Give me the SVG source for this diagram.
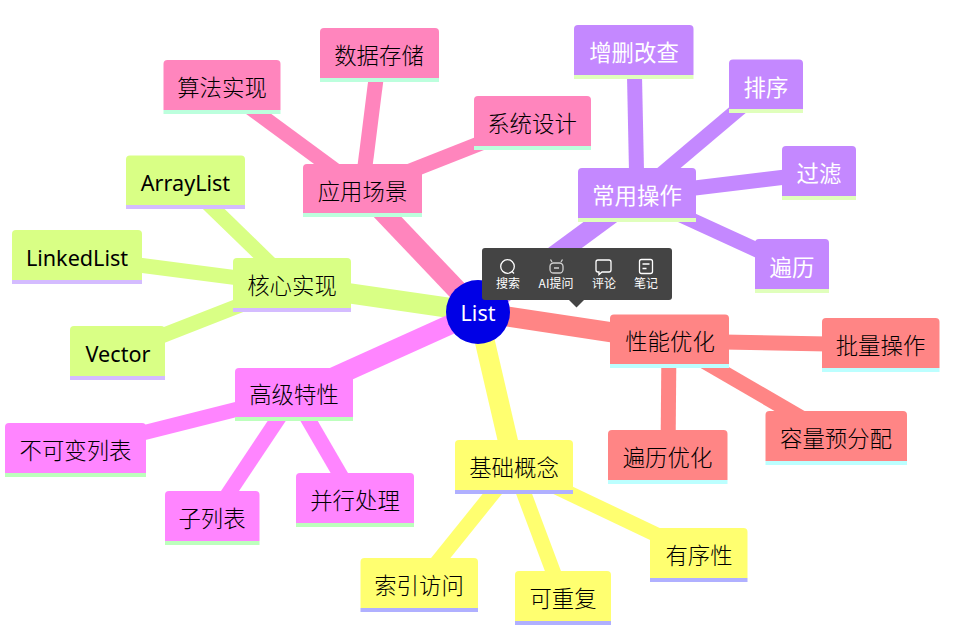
<svg xmlns="http://www.w3.org/2000/svg" width="960" height="643" viewBox="0 0 960 643">
<style>
text{font-family:"Noto Sans CJK SC","Noto Sans",sans-serif;font-size:22.400px;font-weight:300;text-anchor:middle;fill:#000}
g[id^="n-"] text{transform:translateY(.6px)}
.lat{font-size:21.600px;font-family:"Noto Sans","Noto Sans CJK SC",sans-serif;font-weight:400}
.c line{stroke-linecap:butt}
.main{stroke-width:20}.sub{stroke-width:15}
.pink{stroke:#ff85bd}.purple{stroke:#c488ff}.red{stroke:#ff8585}.yellow{stroke:#ffff70}.mag{stroke:#ff85ff}.green{stroke:#d9ff85}
.b-pink{fill:#ff85bd}.s-pink{fill:#bcffdd}
.b-purple{fill:#c488ff}.s-purple{fill:#e0ffbc}
.b-red{fill:#ff8585}.s-red{fill:#bcffff}
.b-yellow{fill:#ffff70}.s-yellow{fill:#b0b0ff}
.b-mag{fill:#ff85ff}.s-mag{fill:#bcffbc}
.b-green{fill:#d9ff85}.s-green{fill:#d4bcff}
.w{fill:#fff;font-weight:400}
#toolbar text{font-size:12px;fill:#fff;font-weight:400}
#toolbar .i{fill:none;stroke:#fff;stroke-width:1.300}
</style>
<g id="connectors" class="c">
<line class="sub pink" x1="222" y1="87" x2="362" y2="190"/>
<line class="sub pink" x1="379" y1="55" x2="362" y2="190"/>
<line class="sub pink" x1="532" y1="123" x2="362" y2="190"/>
<line class="main pink" x1="478" y1="312" x2="362" y2="190"/>
<line class="sub purple" x1="634" y1="52" x2="637" y2="195"/>
<line class="sub purple" x1="766" y1="86" x2="637" y2="195"/>
<line class="sub purple" x1="819" y1="173" x2="637" y2="195"/>
<line class="sub purple" x1="792" y1="266" x2="637" y2="195"/>
<line class="main purple" x1="478" y1="312" x2="637" y2="195"/>
<line class="sub green" x1="186" y1="182" x2="292" y2="285"/>
<line class="sub green" x1="77" y1="257" x2="292" y2="285"/>
<line class="sub green" x1="118" y1="353" x2="292" y2="285"/>
<line class="main green" x1="478" y1="312" x2="292" y2="285"/>
<line class="sub mag" x1="75" y1="450" x2="294" y2="395"/>
<line class="sub mag" x1="212" y1="518" x2="294" y2="395"/>
<line class="sub mag" x1="355" y1="500" x2="294" y2="395"/>
<line class="main mag" x1="478" y1="312" x2="294" y2="395"/>
<line class="sub yellow" x1="419" y1="585" x2="514" y2="467"/>
<line class="sub yellow" x1="563" y1="598" x2="514" y2="467"/>
<line class="sub yellow" x1="699" y1="555" x2="514" y2="467"/>
<line class="main yellow" x1="478" y1="312" x2="514" y2="467"/>
<line class="sub red" x1="881" y1="345" x2="669" y2="341"/>
<line class="sub red" x1="836" y1="438" x2="669" y2="341"/>
<line class="sub red" x1="668" y1="457" x2="669" y2="341"/>
<line class="main red" x1="478" y1="312" x2="669" y2="341"/>
</g>
<g id="n-yingyong"><path class="b-pink" d="M303 213v-45a4 4 0 0 1 4-4h111a4 4 0 0 1 4 4v45z"/><rect class="s-pink" x="303" y="213" width="119" height="4"/><text x="362.500" y="199">应用场景</text></g>
<g id="n-suanfa"><path class="b-pink" d="M163.500 110v-46a4 4 0 0 1 4-4h109a4 4 0 0 1 4 4v46z"/><rect class="s-pink" x="163.500" y="110" width="117" height="4"/><text x="222" y="95">算法实现</text></g>
<g id="n-shuju"><path class="b-pink" d="M320 78v-46a4 4 0 0 1 4-4h111a4 4 0 0 1 4 4v46z"/><rect class="s-pink" x="320" y="78" width="119" height="4"/><text x="379" y="63">数据存储</text></g>
<g id="n-xitong"><path class="b-pink" d="M474 146v-46a4 4 0 0 1 4-4h109a4 4 0 0 1 4 4v46z"/><rect class="s-pink" x="474" y="146" width="117" height="4"/><text x="532" y="131">系统设计</text></g>
<g id="n-changyong"><path class="b-purple" d="M578 218v-46a4 4 0 0 1 4-4h110a4 4 0 0 1 4 4v46z"/><rect class="s-purple" x="578" y="218" width="118" height="4"/><text class="w" x="637" y="203">常用操作</text></g>
<g id="n-zengshan"><path class="b-purple" d="M574 75v-46a4 4 0 0 1 4-4h111.500a4 4 0 0 1 4 4v46z"/><rect class="s-purple" x="574" y="75" width="119.500" height="4"/><text class="w" x="634" y="60">增删改查</text></g>
<g id="n-paixu"><path class="b-purple" d="M729 109v-45.500a4 4 0 0 1 4-4h66a4 4 0 0 1 4 4v45.500z"/><rect class="s-purple" x="729" y="109" width="74" height="4"/><text class="w" x="766" y="95">排序</text></g>
<g id="n-guolv"><path class="b-purple" d="M782 196v-46a4 4 0 0 1 4-4h66a4 4 0 0 1 4 4v46z"/><rect class="s-purple" x="782" y="196" width="74" height="4"/><text class="w" x="819" y="181">过滤</text></g>
<g id="n-bianli"><path class="b-purple" d="M755 289v-46a4 4 0 0 1 4-4h66a4 4 0 0 1 4 4v46z"/><rect class="s-purple" x="755" y="289" width="74" height="4"/><text class="w" x="792" y="275">遍历</text></g>
<g id="n-hexin"><path class="b-green" d="M233 308v-46a4 4 0 0 1 4-4h110a4 4 0 0 1 4 4v46z"/><rect class="s-green" x="233" y="308" width="118" height="4"/><text x="292" y="293">核心实现</text></g>
<g id="n-arraylist"><path class="b-green" d="M126 205v-45.500a4 4 0 0 1 4-4h111a4 4 0 0 1 4 4v45.500z"/><rect class="s-green" x="126" y="205" width="119" height="4"/><text class="lat" x="185.500" y="190">ArrayList</text></g>
<g id="n-linkedlist"><path class="b-green" d="M12 280v-46a4 4 0 0 1 4-4h122a4 4 0 0 1 4 4v46z"/><rect class="s-green" x="12" y="280" width="130" height="4"/><text class="lat" x="77" y="265">LinkedList</text></g>
<g id="n-vector"><path class="b-green" d="M70 376v-46a4 4 0 0 1 4-4h87a4 4 0 0 1 4 4v46z"/><rect class="s-green" x="70" y="376" width="95" height="4"/><text class="lat" x="118" y="361">Vector</text></g>
<g id="n-gaoji"><path class="b-mag" d="M235 417v-45a4 4 0 0 1 4-4h110a4 4 0 0 1 4 4v45z"/><rect class="s-mag" x="235" y="417" width="118" height="4"/><text x="294" y="402">高级特性</text></g>
<g id="n-bukebian"><path class="b-mag" d="M5 473v-46a4 4 0 0 1 4-4h133a4 4 0 0 1 4 4v46z"/><rect class="s-mag" x="5" y="473" width="141" height="4"/><text x="75.500" y="458">不可变列表</text></g>
<g id="n-zilie"><path class="b-mag" d="M165 541v-46a4 4 0 0 1 4-4h86.500a4 4 0 0 1 4 4v46z"/><rect class="s-mag" x="165" y="541" width="94.500" height="4"/><text x="212" y="526">子列表</text></g>
<g id="n-bingxing"><path class="b-mag" d="M296 523v-46a4 4 0 0 1 4-4h110a4 4 0 0 1 4 4v46z"/><rect class="s-mag" x="296" y="523" width="118" height="4"/><text x="355" y="508">并行处理</text></g>
<g id="n-jichu"><path class="b-yellow" d="M455 490v-46a4 4 0 0 1 4-4h110a4 4 0 0 1 4 4v46z"/><rect class="s-yellow" x="455" y="490" width="118" height="4"/><text x="514" y="475">基础概念</text></g>
<g id="n-suoyin"><path class="b-yellow" d="M360.500 608v-46a4 4 0 0 1 4-4h109.500a4 4 0 0 1 4 4v46z"/><rect class="s-yellow" x="360.500" y="608" width="117.500" height="4"/><text x="419" y="593">索引访问</text></g>
<g id="n-kechongfu"><path class="b-yellow" d="M515 621v-46a4 4 0 0 1 4-4h88a4 4 0 0 1 4 4v46z"/><rect class="s-yellow" x="515" y="621" width="96" height="4"/><text x="563" y="606">可重复</text></g>
<g id="n-youxu"><path class="b-yellow" d="M650 578v-46a4 4 0 0 1 4-4h89.500a4 4 0 0 1 4 4v46z"/><rect class="s-yellow" x="650" y="578" width="97.500" height="4"/><text x="699" y="563">有序性</text></g>
<g id="n-xingneng"><path class="b-red" d="M610 364v-45.500a4 4 0 0 1 4-4h111a4 4 0 0 1 4 4v45.500z"/><rect class="s-red" x="610" y="364" width="119" height="4"/><text x="670" y="349">性能优化</text></g>
<g id="n-piliang"><path class="b-red" d="M822 368v-46a4 4 0 0 1 4-4h109.500a4 4 0 0 1 4 4v46z"/><rect class="s-red" x="822" y="368" width="117.500" height="4"/><text x="880.500" y="353">批量操作</text></g>
<g id="n-rongliang"><path class="b-red" d="M765.500 461v-46a4 4 0 0 1 4-4h133.500a4 4 0 0 1 4 4v46z"/><rect class="s-red" x="765.500" y="461" width="141.500" height="4"/><text x="836" y="446">容量预分配</text></g>
<g id="n-bianliyouhua"><path class="b-red" d="M608 480v-46a4 4 0 0 1 4-4h111.500a4 4 0 0 1 4 4v46z"/><rect class="s-red" x="608" y="480" width="119.500" height="4"/><text x="667.500" y="465">遍历优化</text></g>
<g id="n-root"><circle cx="478" cy="312" r="32" fill="#0000e6"/><text class="w lat" x="478" y="320" style="font-size:21.500px">List</text></g>
<g id="toolbar">
<rect x="482" y="248" width="190" height="52" rx="3" fill="#444"/>
<path d="M569 300h15l-7.500 7.500z" fill="#444"/>
<circle class="i" cx="507.500" cy="266.500" r="6.800"/><path class="i" d="M512 271.500l2 2"/>
<rect class="i" x="550" y="263" width="13" height="10" rx="3.500" stroke-opacity=".75"/><path class="i" d="M552 262l-1.500-2.500M561 262l1.500-2.500M554 268h5" stroke-opacity=".75"/>
<path class="i" d="M598 260h11a2 2 0 0 1 2 2v8a2 2 0 0 1-2 2h-7l-3 2.500v-2.500h-1a2 2 0 0 1-2-2v-8a2 2 0 0 1 2-2z"/>
<rect class="i" x="639.500" y="259.500" width="13" height="14" rx="2"/><path class="i" d="M642.500 264h7M642.500 268.500h4"/>
<text x="508" y="288">搜索</text>
<text x="556" y="288">AI提问</text>
<text x="604" y="288">评论</text>
<text x="646" y="288">笔记</text>
</g>
</svg>
